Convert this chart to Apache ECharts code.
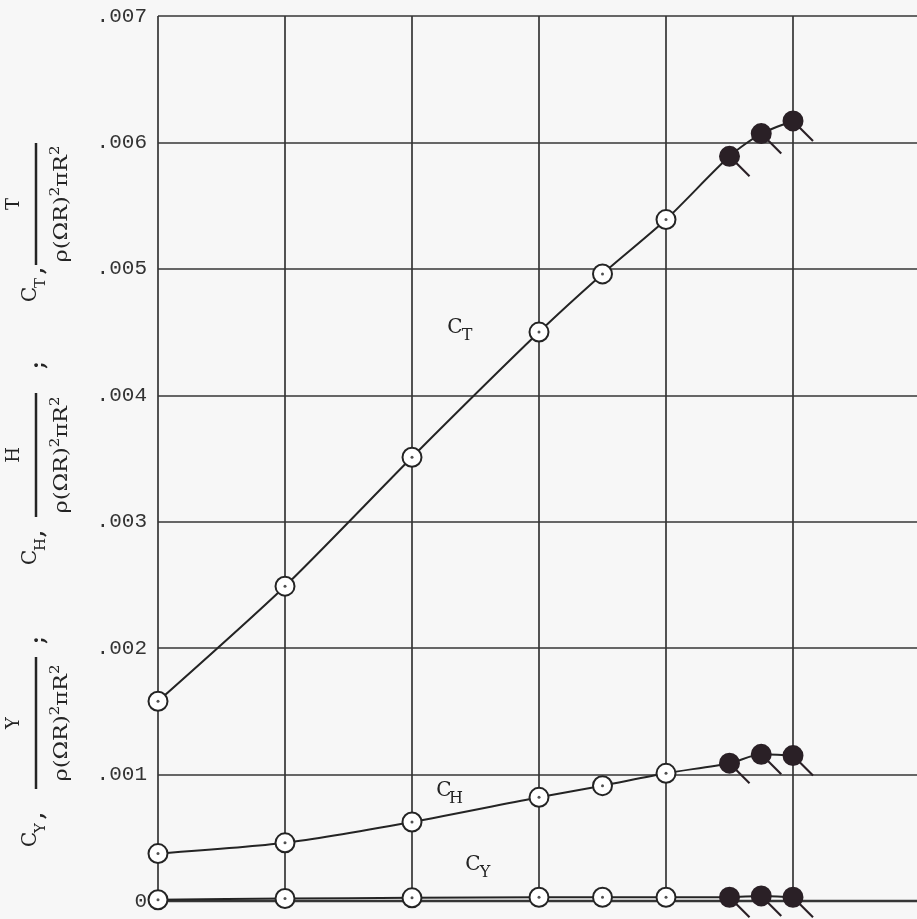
<!DOCTYPE html>
<html><head><meta charset="utf-8">
<script src="https://cdn.jsdelivr.net/npm/echarts@6/dist/echarts.min.js"></script>
<style>html,body{margin:0;padding:0;background:#f7f7f7}#c{width:917px;height:919px}</style>
</head><body><div id="c"></div>
<script>
// ---- data ----
const xValues = [0, 1, 2, 3, 3.5, 4, 4.5, 4.75, 5];
const cT = [0.00158, 0.00249, 0.00351, 0.0045, 0.00496, 0.00539, 0.00589, 0.00607, 0.00617];
const cH = [0.000375, 0.00046, 0.000625, 0.00082, 0.000912, 0.00101, 0.00109, 0.00116, 0.00115];
const cY = [0.00001, 0.00002, 0.000025, 0.00003, 0.00003, 0.00003, 0.00003, 0.00004, 0.00003];
const filledPoint = [false, false, false, false, false, false, true, true, true];
const yTickLabels = ['0', '.001', '.002', '.003', '.004', '.005', '.006', '.007'];

const INK = '#242424';
const GRID = '#363636';
const MONO = '"Liberation Mono", monospace';
const SERIF = '"DejaVu Serif", serif';
const tailSymbol = 'path://M0,10.5A10.5,10.5,0,1,0,21,10.5A10.5,10.5,0,1,0,0,10.5Z' +
  'M11.25,9.75L9.75,11.25L29.75,31.25L31.25,29.75Z';

function seriesData(vals) {
  return xValues.map((x, i) => filledPoint[i] ? {
    value: [x, vals[i]], symbol: tailSymbol, symbolSize: 31.25, symbolOffset: [5.125, 5.125],
    itemStyle: { color: '#2a2026', borderWidth: 0 }
  } : {
    value: [x, vals[i]], symbol: 'circle', symbolSize: 19,
    itemStyle: { color: '#ffffff', borderColor: INK, borderWidth: 2 }
  });
}
function dotData(vals) {
  const out = [];
  xValues.forEach((x, i) => { if (!filledPoint[i]) out.push([x, vals[i]]); });
  return out;
}
function curve(vals) {
  return [{
    type: 'line', data: seriesData(vals), smooth: 0.25, showAllSymbol: true,
    lineStyle: { color: INK, width: 2 }, animation: false, silent: true, z: 3
  }, {
    type: 'scatter', data: dotData(vals), symbol: 'circle', symbolSize: 3,
    itemStyle: { color: INK }, animation: false, silent: true, z: 4
  }];
}

// rotated axis title parts (numerator / fraction bar / denominator)
function titlePart(ox, oy, sub, num, barLen, cStart, semiX) {
  const kids = [
    { type: 'text', x: cStart, y: -5, style: { text: 'C', font: '20px ' + SERIF, fill: INK, align: 'left', verticalAlign: 'middle' } },
    { type: 'text', x: cStart + 14, y: 5, style: { text: sub, font: '15px ' + SERIF, fill: INK, align: 'left', verticalAlign: 'middle' } },
    { type: 'text', x: cStart + 28, y: 2, style: { text: ',', font: 'bold 20px ' + SERIF, fill: INK, align: 'left', verticalAlign: 'middle' } },
    { type: 'line', shape: { x1: 0, y1: 0, x2: barLen, y2: 0 }, style: { stroke: INK, lineWidth: 2.5 } },
    { type: 'text', x: barLen / 2, y: -22, style: { text: num, font: '18px ' + SERIF, fill: INK, align: 'center', verticalAlign: 'middle' } },
    { type: 'text', x: barLen / 2, y: 26, scaleX: 1.25,
      style: { text: '{m|ρ(ΩR)}{s|2}{m|πR}{s|2}', align: 'center', verticalAlign: 'middle', fill: INK,
        rich: { m: { font: '18px ' + SERIF, lineHeight: 24, fill: INK },
                s: { font: '12px ' + SERIF, lineHeight: 12, verticalAlign: 'top', fill: INK } } } }
  ];
  if (semiX !== null) kids.push({ type: 'text', x: semiX, y: 3, style: { text: ';', font: 'bold 20px ' + SERIF, fill: INK, align: 'center', verticalAlign: 'middle' } });
  return { type: 'group', x: ox, y: oy, rotation: Math.PI / 2, silent: true, children: kids };
}
function curveLabel(x, y, sub) {
  return { type: 'group', x: x, y: y, silent: true, children: [
    { type: 'text', x: 0, y: 0, style: { text: 'C', font: '20px ' + SERIF, fill: INK, align: 'center', verticalAlign: 'middle' } },
    { type: 'text', x: 12, y: 8, style: { text: sub, font: '16px ' + SERIF, fill: INK, align: 'center', verticalAlign: 'middle' } }
  ]};
}

const chart = echarts.init(document.getElementById('c'), null, { renderer: 'canvas' });
chart.setOption({
  backgroundColor: '#f7f7f7',
  animation: false,
  grid: { left: 158, right: -3, top: 16, bottom: 18, containLabel: false, outerBoundsMode: 'none' },
  xAxis: {
    type: 'value', min: 0, max: 6, interval: 1,
    axisLine: { show: true, onZero: true, lineStyle: { color: GRID, width: 2.4 } },
    axisTick: { show: false }, axisLabel: { show: false },
    splitLine: { show: true, lineStyle: { color: GRID, width: 1.7 } }
  },
  yAxis: {
    type: 'value', min: 0, max: 0.007, interval: 0.001,
    axisLine: { show: false }, axisTick: { show: false },
    axisLabel: { formatter: v => yTickLabels[Math.round(v * 1000)], fontFamily: MONO, fontSize: 21, color: '#333', margin: 11 },
    splitLine: { show: true, lineStyle: { color: GRID, width: 1.7 } }
  },
  series: [].concat(curve(cT), curve(cH), curve(cY)),
  graphic: [
    titlePart(36, 789, 'Y', 'Y', 132, -58, 149),
    titlePart(36, 517, 'H', 'H', 124, -48, 152),
    titlePart(36, 265, 'T', 'T', 122, -37, null),
    curveLabel(455, 328, 'T'),
    curveLabel(444, 791, 'H'),
    curveLabel(473, 865, 'Y')
  ]
});
</script></body></html>
